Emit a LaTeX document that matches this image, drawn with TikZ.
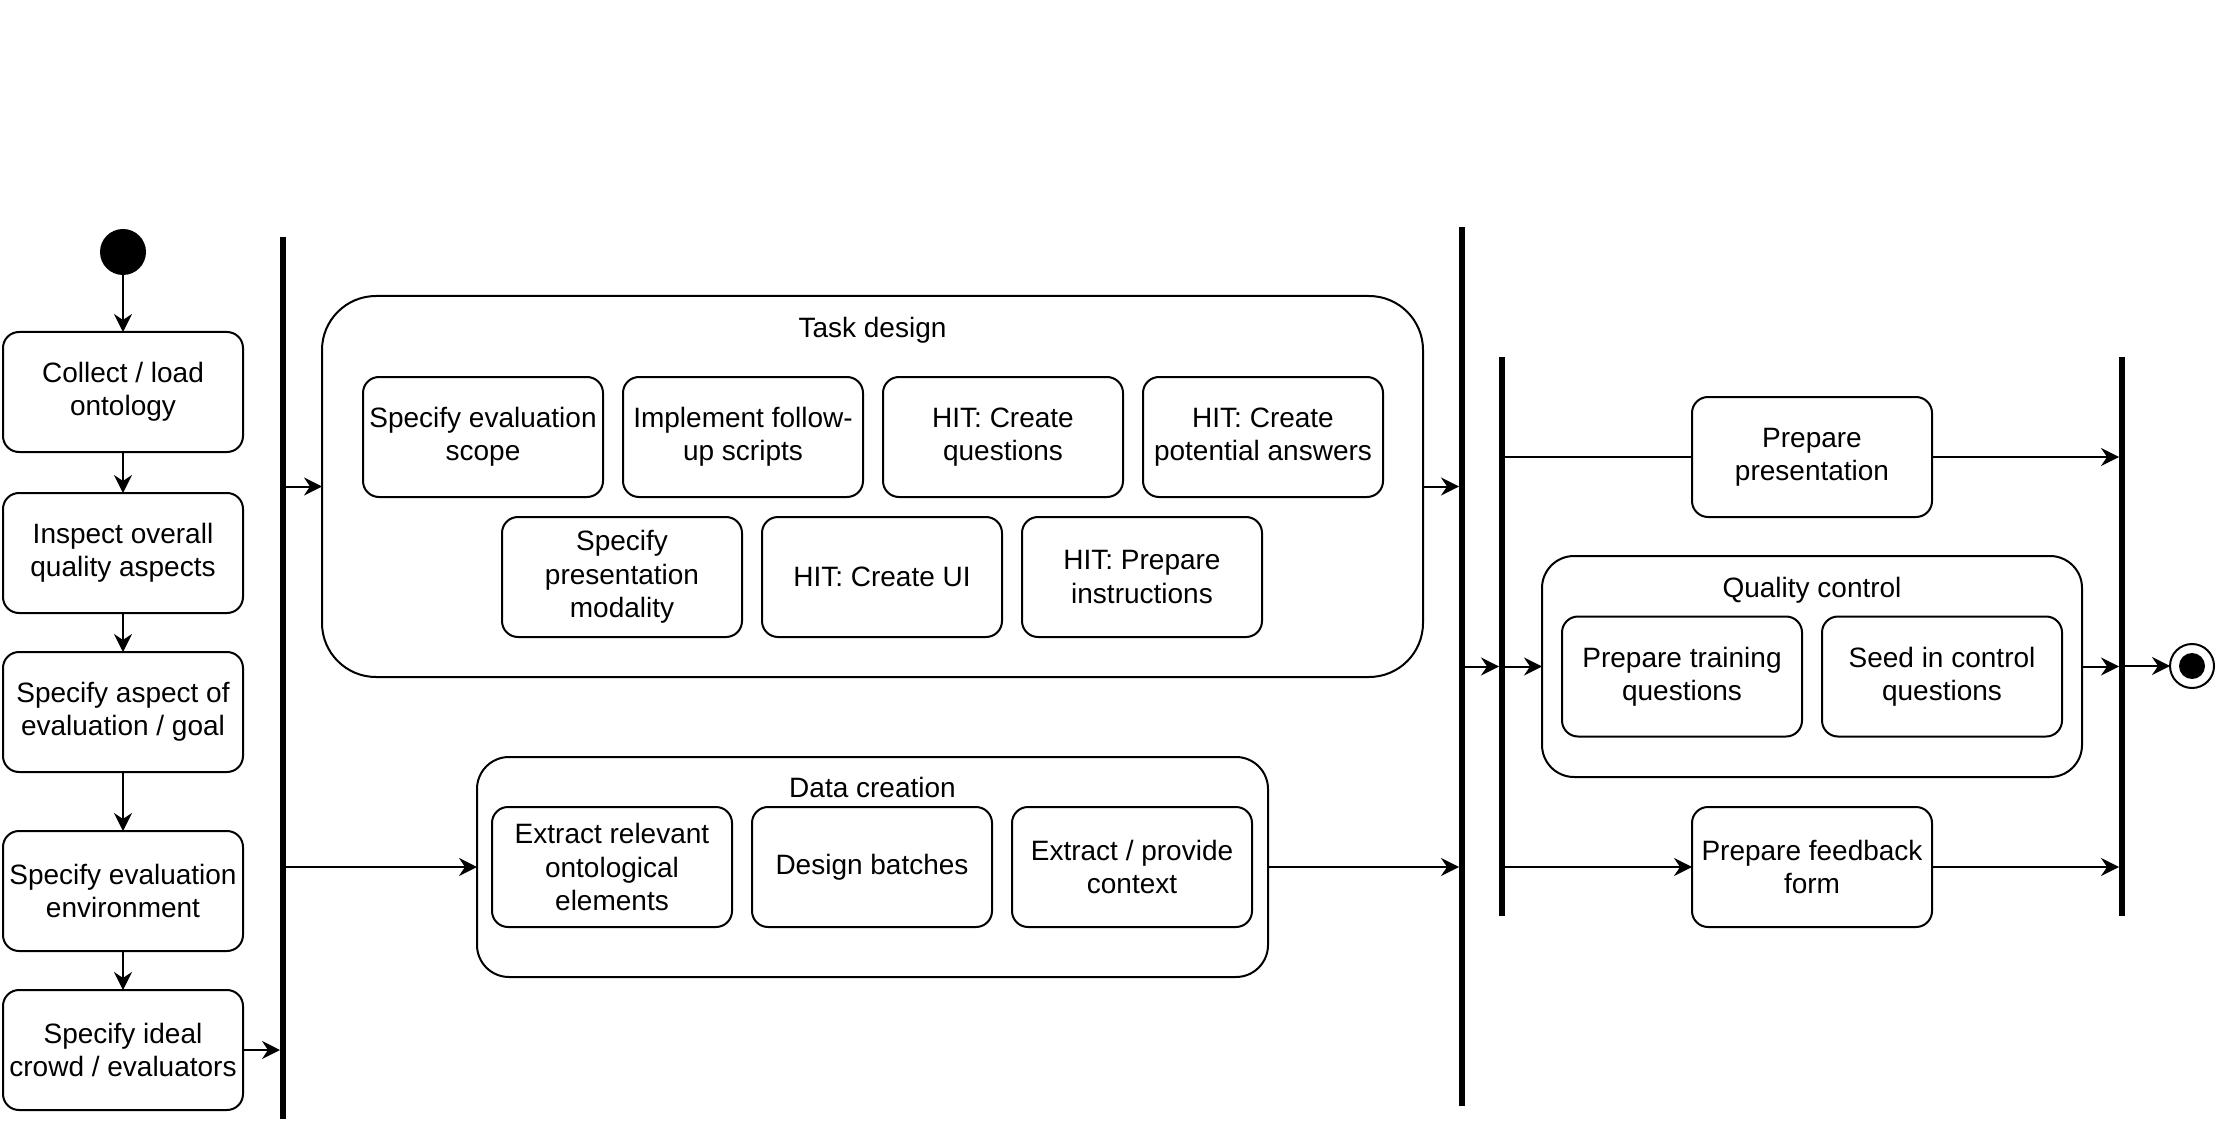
\documentclass[tikz,border=0pt]{standalone}
\usepackage{fontspec}
\setmainfont{Liberation Sans}
\usetikzlibrary{arrows.meta, positioning}

\begin{document}
\begin{tikzpicture}[
    x=0.5pt, y=-0.5pt,
    action/.style={
        rectangle, rounded corners=8pt, draw=black, fill=white,
        line width=1pt, minimum width=120pt, minimum height=60pt, align=center,
        inner sep=2pt, outer sep=0pt, font=\fontsize{14pt}{16.7pt}\selectfont
    },
    group/.style={
        rectangle, draw=black, fill=white, line width=1pt, inner sep=0pt, outer sep=0pt
    },
    grouptitle/.style={font=\fontsize{14pt}{16.7pt}\selectfont},
    fork/.style={rectangle, fill=black, inner sep=0pt, outer sep=0pt, minimum width=3pt},
    initial/.style={circle, fill=black, inner sep=0pt, outer sep=0pt, minimum size=23pt},
    final/.style={
        circle, draw=black, line width=1pt, inner sep=0pt, outer sep=0pt, minimum size=22pt,
        path picture={\fill (path picture bounding box.center) circle (6.5pt);}
    },
    arrow/.style={-{Stealth[length=9pt, width=9pt, inset=3pt]}, line width=1pt},
    link/.style={line width=1pt}
]
    \useasboundingbox (0,0) rectangle (2225,1128);

    % Preparation column
    \node[initial] (start) at (123,252) {};
    \node[action, below=28.5pt of start] (c1) {Collect / load\\ontology};
    \node[action, below=20.5pt of c1] (c2) {Inspect overall\\quality aspects};
    \node[action, below=19.5pt of c2] (c3) {Specify aspect of\\evaluation / goal};
    \node[action, below=29.5pt of c3] (c4) {Specify evaluation\\environment};
    \node[action, below=19.5pt of c4] (c5) {Specify ideal\\crowd / evaluators};

    % Forks and joins
    \node[fork, minimum height=441pt] (fork1) at (283,678) {};
    \node[fork, minimum height=439.5pt] (fork2) at (1462,666.5) {};
    \node[fork, minimum height=279.5pt] (fork3) at (1502,636.5) {};
    \node[fork, minimum height=279.5pt] (fork4) at (2122,636.5) {};

    % Task design
    \node[group, rounded corners=27pt, minimum width=550.5pt, minimum height=190.5pt] (td) at (872.5,486.5) {};
    \node[grouptitle] (tdtitle) at ([yshift=-17pt]td.north) {Task design};
    \node[action] (t1) at (483,437) {Specify evaluation\\scope};
    \node[action, right=10pt of t1] (t2) {Implement follow-\\up scripts};
    \node[action, right=10pt of t2] (t3) {HIT: Create\\questions};
    \node[action, right=10pt of t3] (t4) {HIT: Create\\potential answers};
    \node[action] (t5) at (622,577) {Specify\\presentation\\modality};
    \node[action, right=10pt of t5] (t6) {HIT: Create UI};
    \node[action, right=10pt of t6] (t7) {HIT: Prepare\\instructions};

    % Data creation
    \node[group, rounded corners=16pt, minimum width=395.5pt, minimum height=110pt] (dc) at (872.5,867) {};
    \node[grouptitle] (dctitle) at ([yshift=-15pt]dc.north) {Data creation};
    \node[action] (d1) at (612,867) {Extract relevant\\ontological\\elements};
    \node[action, right=10pt of d1] (d2) {Design batches};
    \node[action, right=10pt of d2] (d3) {Extract / provide\\context};

    % Publishing
    \node[action] (pp) at (1812,457) {Prepare\\presentation};
    \node[group, rounded corners=16pt, minimum width=270pt, minimum height=110.5pt] (qc) at (1812,666.5) {};
    \node[grouptitle] (qctitle) at ([yshift=-17pt]qc.north) {Quality control};
    \node[action] (q1) at (1682,676.5) {Prepare training\\questions};
    \node[action, right=10pt of q1] (q2) {Seed in control\\questions};
    \node[action] (fb) at (1812,867) {Prepare feedback\\form};

    \node[final] (end) at (2192,666) {};

    % Links
    \draw[arrow] (start) -- (c1);
    \draw[arrow] (c1) -- (c2);
    \draw[arrow] (c2) -- (c3);
    \draw[arrow] (c3) -- (c4);
    \draw[arrow] (c4) -- (c5);
    \draw[arrow] (c5.east) -- (c5.east -| fork1.west);

    \draw[arrow] (fork1.east |- td.west) -- (td.west);
    \draw[arrow] (fork1.east |- dc.west) -- (dc.west);
    \draw[arrow] (td.east) -- (td.east -| fork2.west);
    \draw[arrow] (dc.east) -- (dc.east -| fork2.west);

    \draw[arrow] (fork2.east |- qc.west) -- (fork3.west |- qc.west);
    \draw[link] (fork3.east |- pp.west) -- (pp.west);
    \draw[arrow] (fork3.east |- qc.west) -- (qc.west);
    \draw[arrow] (fork3.east |- fb.west) -- (fb.west);
    \draw[arrow] (pp.east) -- (pp.east -| fork4.west);
    \draw[arrow] (qc.east) -- (qc.east -| fork4.west);
    \draw[arrow] (fb.east) -- (fb.east -| fork4.west);
    \draw[arrow] (fork4.east |- end.west) -- (end.west);

\end{tikzpicture}
\end{document}
